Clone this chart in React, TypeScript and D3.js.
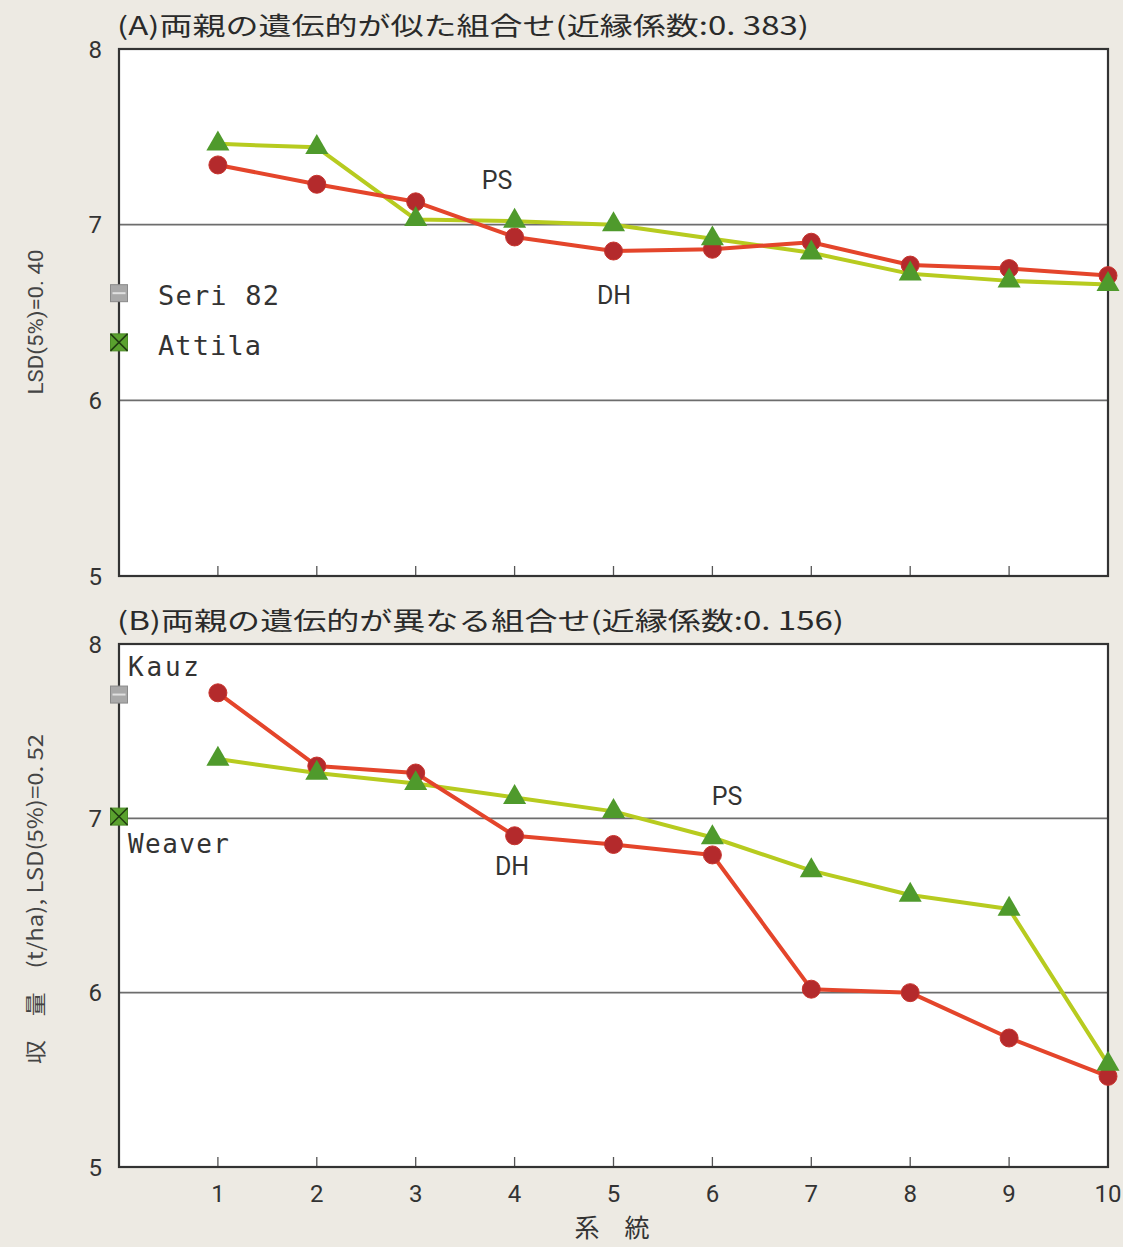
import React from "react";
import * as d3 from "d3";

const lines = [1, 2, 3, 4, 5, 6, 7, 8, 9, 10];
const xTickLabels = ["1", "2", "3", "4", "5", "6", "7", "8", "9", "10"];
const yTicks = [5, 6, 7, 8];

// Panel A: similar parents
const aDH = [7.34, 7.23, 7.13, 6.93, 6.85, 6.86, 6.9, 6.77, 6.75, 6.71];
const aPS = [7.46, 7.44, 7.03, 7.02, 7.0, 6.92, 6.84, 6.72, 6.68, 6.66];
const aParents = [
  { name: "Seri 82", value: 6.61, kind: "gray" },
  { name: "Attila", value: 6.33, kind: "green" },
];

// Panel B: different parents
const bDH = [7.72, 7.3, 7.26, 6.9, 6.85, 6.79, 6.02, 6.0, 5.74, 5.52];
const bPS = [7.34, 7.26, 7.2, 7.12, 7.04, 6.89, 6.7, 6.56, 6.48, 5.59];
const bParents = [
  { name: "Kauz", value: 7.71, kind: "gray" },
  { name: "Weaver", value: 7.01, kind: "green" },
];

const W = 1123;
const H = 1247;
const X0 = 119;
const X1 = 1108;

const RED_LINE = "#e4452b";
const RED_DOT = "#b42a2c";
const GREEN_LINE = "#b7cb1f";
const GREEN_TRI = "#4f9a2c";
const BG = "#edeae3";
const NUM_FONT = "'Liberation Sans Narrow', 'Roboto', 'Liberation Sans', sans-serif";
const MONO = "'DejaVu Sans Mono', 'Liberation Mono', monospace";
const CJK = "'Noto Sans CJK JP', 'Noto Sans', sans-serif";

const x = d3.scaleLinear().domain([0, 10]).range([X0, X1]);

function ParentMarker({ cy, kind }: { cy: number; kind: string }) {
  const s = 17;
  if (kind === "gray") {
    return (
      <g>
        <rect x={X0 - s / 2} y={cy - s / 2} width={s} height={s} fill="#a9a9a9" stroke="#8a8a8a" strokeWidth={1} />
        <line x1={X0 - s / 2 + 2} x2={X0 + s / 2 - 2} y1={cy} y2={cy} stroke="#e0e0e0" strokeWidth={2} />
      </g>
    );
  }
  return (
    <g>
      <rect x={X0 - s / 2} y={cy - s / 2} width={s} height={s} fill="#5aa12e" stroke="#4a8a26" strokeWidth={1} />
      <line x1={X0 - s / 2} x2={X0 + s / 2} y1={cy - s / 2} y2={cy + s / 2} stroke="#1f3a10" strokeWidth={1.5} />
      <line x1={X0 - s / 2} x2={X0 + s / 2} y1={cy + s / 2} y2={cy - s / 2} stroke="#1f3a10" strokeWidth={1.5} />
    </g>
  );
}

function Panel({
  top,
  bottom,
  dh,
  ps,
  showXLabels,
  title,
  titleLen,
  children,
}: {
  top: number;
  bottom: number;
  dh: number[];
  ps: number[];
  showXLabels: boolean;
  title: string;
  titleLen: number;
  children?: React.ReactNode;
}) {
  const y = d3.scaleLinear().domain([5, 8]).range([bottom, top]);
  const line = d3
    .line<number>()
    .x((_, i) => x(lines[i]))
    .y((d) => y(d));
  const tri = d3.symbol().type(d3.symbolTriangle).size(230)();
  return (
    <g>
      <rect x={X0} y={top} width={X1 - X0} height={bottom - top} fill="#ffffff" />
      {[6, 7].map((v) => (
        <line key={v} x1={X0} x2={X1} y1={y(v)} y2={y(v)} stroke="#6d6d6d" strokeWidth={1.6} />
      ))}
      {lines.slice(0, 9).map((l) => (
        <line key={l} x1={x(l)} x2={x(l)} y1={bottom} y2={bottom - 10} stroke="#555" strokeWidth={1.3} />
      ))}
      <rect x={X0} y={top} width={X1 - X0} height={bottom - top} fill="none" stroke="#333" strokeWidth={2.2} />
      {yTicks.map((v) => (
        <text
          key={v}
          x={102}
          y={y(v)}
          dy="0.36em"
          textAnchor="end"
          fontFamily={NUM_FONT}
          fontSize={24}
          fill="#333"
        >
          {v}
        </text>
      ))}
      {showXLabels &&
        lines.map((l, i) => (
          <text
            key={l}
            x={x(l)}
            y={bottom + 26}
            dy="0.36em"
            textAnchor="middle"
            fontFamily={NUM_FONT}
            fontSize={24}
            fill="#333"
          >
            {xTickLabels[i]}
          </text>
        ))}
      <text x={117} y={top - 14} fontFamily={CJK} fontSize={25} fill="#2a2a2a" textLength={titleLen} lengthAdjust="spacingAndGlyphs">
        {title}
      </text>
      <path d={line(ps) || ""} fill="none" stroke={GREEN_LINE} strokeWidth={4} strokeLinejoin="round" />
      <path d={line(dh) || ""} fill="none" stroke={RED_LINE} strokeWidth={4} strokeLinejoin="round" />
      {dh.map((v, i) => (
        <circle key={"c" + i} cx={x(lines[i])} cy={y(v)} r={9} fill={RED_DOT} stroke="#c8332c" strokeWidth={1} />
      ))}
      {ps.map((v, i) => (
        <path key={"t" + i} d={tri || ""} transform={`translate(${x(lines[i])},${y(v)})`} fill={GREEN_TRI} />
      ))}
      {children}
    </g>
  );
}

export default function App() {
  const yA = d3.scaleLinear().domain([5, 8]).range([576, 49]);
  const yB = d3.scaleLinear().domain([5, 8]).range([1167, 644]);
  return (
    <svg
      width={W}
      height={H}
      viewBox={`0 0 ${W} ${H}`}
      style={{ position: "absolute", left: 0, top: 0, display: "block" }}
    >
      <rect x={0} y={0} width={W} height={H} fill={BG} />
      <Panel
        top={49}
        bottom={576}
        dh={aDH}
        ps={aPS}
        showXLabels={false}
        title="(A)両親の遺伝的が似た組合せ(近縁係数:0. 383)"
        titleLen={692}
      >
        <text x={497} y={180} dy="0.36em" textAnchor="middle" fontFamily="Roboto, sans-serif" fontSize={25} fill="#333">
          PS
        </text>
        <text x={614} y={295} dy="0.36em" textAnchor="middle" fontFamily="Roboto, sans-serif" fontSize={25} fill="#333">
          DH
        </text>
        {aParents.map((p, i) => (
          <g key={p.name}>
            <ParentMarker cy={yA(p.value)} kind={p.kind} />
            <text
              x={158}
              y={yA(p.value) + (i === 0 ? 2 : 3)}
              dy="0.36em"
              fontFamily={MONO}
              fontSize={27}
              fill="#333"
              textLength={i === 0 ? 121 : 103}
              lengthAdjust="spacing"
            >
              {p.name}
            </text>
          </g>
        ))}
      </Panel>
      <Panel
        top={644}
        bottom={1167}
        dh={bDH}
        ps={bPS}
        showXLabels={true}
        title="(B)両親の遺伝的が異なる組合せ(近縁係数:0. 156)"
        titleLen={727}
      >
        <text x={727} y={796} dy="0.36em" textAnchor="middle" fontFamily="Roboto, sans-serif" fontSize={25} fill="#333">
          PS
        </text>
        <text x={512} y={866} dy="0.36em" textAnchor="middle" fontFamily="Roboto, sans-serif" fontSize={25} fill="#333">
          DH
        </text>
        {bParents.map((p, i) => (
          <g key={p.name}>
            <ParentMarker cy={yB(p.value)} kind={p.kind} />
            <text
              x={128}
              y={i === 0 ? 667 : 844}
              dy="0.36em"
              fontFamily={MONO}
              fontSize={26}
              fill="#333"
              textLength={i === 0 ? 71 : 101}
              lengthAdjust="spacing"
            >
              {p.name}
            </text>
          </g>
        ))}
      </Panel>
      <text
        transform="translate(35,322) rotate(-90)"
        textAnchor="middle"
        dy="0.36em"
        fontFamily={NUM_FONT}
        fontSize={21}
        fill="#444"
        textLength={145}
        lengthAdjust="spacingAndGlyphs"
      >
        LSD(5%)=0. 40
      </text>
      <text
        transform="translate(35,899) rotate(-90)"
        textAnchor="middle"
        dy="0.36em"
        fontFamily={CJK}
        fontSize={21}
        fill="#444"
        textLength={330}
        lengthAdjust="spacingAndGlyphs"
      >
        収　量　(t/ha), LSD(5%)=0. 52
      </text>
      <text x={612} y={1228} dy="0.36em" textAnchor="middle" fontFamily={CJK} fontSize={25} fill="#333">
        系　統
      </text>
    </svg>
  );
}
